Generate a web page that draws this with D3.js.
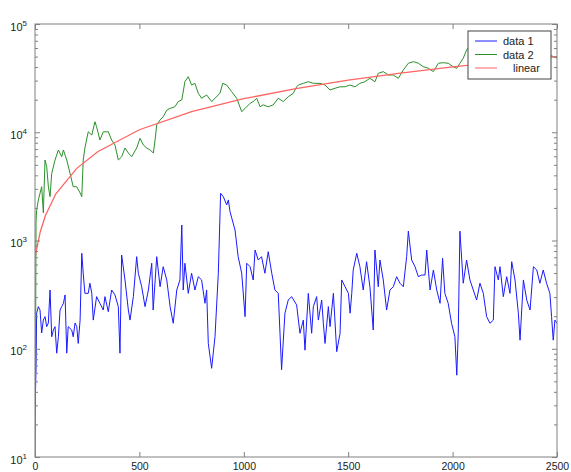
<!doctype html>
<html>
<head>
<meta charset="utf-8">
<script src="https://d3js.org/d3.v7.min.js"></script>
<style>
  body { margin: 0; background: #fff; }
  svg { display: block; font-family: "Liberation Sans", Arial, sans-serif; }
  .tick text { font-size: 10.5px; fill: #222; }
</style>
</head>
<body>
<svg id="chart" width="571" height="472"></svg>
<script>
// data 1 (blue)
var data1X = [1,5,8,16,24,32,40,48,56,64,72,80,88,96,104,112,120,128,136,144,152,159,176,183,192,200,207,216,224,231,239,255,263,272,279,295,311,327,335,351,367,383,399,407,415,431,447,455,471,487,495,511,527,543,559,566,583,599,614,631,647,662,679,694,703,710,718,734,750,766,782,798,814,822,830,846,862,878,889,902,918,926,934,958,973,990,1006,1014,1030,1045,1054,1069,1085,1101,1117,1134,1149,1165,1181,1197,1213,1229,1253,1269,1285,1293,1309,1325,1333,1349,1357,1373,1381,1389,1405,1413,1429,1445,1461,1469,1485,1501,1509,1517,1524,1541,1556,1572,1588,1604,1620,1628,1644,1652,1668,1684,1700,1716,1732,1748,1764,1780,1788,1804,1820,1836,1852,1868,1876,1892,1908,1924,1940,1952,1963,1979,1995,2011,2020,2027,2035,2051,2067,2083,2099,2115,2131,2147,2163,2179,2195,2203,2219,2227,2243,2259,2275,2283,2299,2315,2323,2339,2355,2371,2387,2403,2418,2434,2450,2466,2474,2482,2490,2500];
var data1Y = [30,68,214,245,228,140,184,198,160,173,349,129,149,160,91,129,228,245,263,314,91,160,149,129,173,160,112,184,762,498,325,325,403,325,184,303,263,228,303,220,349,314,245,91,734,432,228,184,303,709,498,374,245,349,616,228,709,374,573,432,245,172,349,432,1390,349,616,325,498,349,463,432,263,349,112,66,129,498,2730,2540,2130,2370,1850,1250,709,498,198,616,573,432,817,660,709,498,788,498,349,325,64,213,282,303,254,139,184,97,325,139,245,303,184,282,172,112,245,160,325,94,139,432,374,325,213,325,534,762,573,349,637,374,149,817,374,660,432,228,349,374,463,403,374,709,1220,660,573,463,480,480,817,349,534,349,263,685,325,263,172,129,57,139,1220,403,660,432,349,282,403,325,198,172,184,573,432,573,303,463,325,637,432,213,120,432,282,228,573,534,403,534,403,325,198,120,184,172];

// data 2 (green)
var data2X = [1,5,8,16,32,40,48,56,64,72,80,96,112,128,136,152,168,183,200,216,224,231,239,255,272,287,295,311,327,351,367,383,399,415,431,447,463,487,503,519,535,551,567,575,583,599,614,631,647,670,686,703,718,734,750,766,782,798,822,846,862,886,899,918,942,966,990,1006,1030,1045,1062,1078,1093,1117,1141,1165,1189,1213,1237,1253,1261,1285,1309,1333,1365,1389,1413,1437,1461,1485,1509,1533,1556,1580,1604,1628,1644,1668,1692,1716,1740,1764,1788,1812,1836,1860,1884,1908,1932,1955,1979,2003,2020,2035,2051,2067,2083,2131,2203,2275,2371,2442,2476,2500];
var data2Y = [10,1500,1900,2370,3140,1800,5540,4810,3140,2540,4160,5540,6860,5940,6860,5540,4160,3140,3140,2750,2540,5540,7160,10100,9430,12500,11250,8480,10100,10100,8480,7620,5540,5940,7160,6430,5940,7160,8800,7620,7160,6860,6430,8480,11700,13000,13900,16000,16600,17200,19200,19900,29300,32600,27300,28300,22900,20600,22100,19200,20600,22900,28300,27300,23700,20600,15500,16600,18500,19200,20600,17200,17900,17200,17900,20600,19200,21300,22900,26300,27300,28300,29300,28300,28300,27300,24600,25500,26300,26300,27300,26300,28300,29300,31500,29300,35000,36300,33800,33800,31500,37600,43400,44900,43400,40300,39000,36300,43400,43900,43400,40300,39000,43400,48200,57500,62600,57500,52800,55100,51700,52800,50600,48500];

// linear fit (red)
var linearX = [0,25,50,100,200,300,500,750,1000,1250,1500,1750,2000,2250,2500];
var linearY = [700,1200,1700,2700,4640,6600,10550,15500,20400,25300,30300,35200,40100,45000,50000];

var xTicks = [0, 500, 1000, 1500, 2000, 2500];
var yDecades = [10, 100, 1000, 10000, 100000];
var legendLabels = ["data 1", "data 2", "linear"];
var colors = ["#1a1aff", "#2a902a", "#ff6464"];

var svg = d3.select("#chart");
var pLeft = 35, pRight = 557, pTop = 24, pBottom = 457;
var x = d3.scaleLinear().domain([0, 2500]).range([pLeft, pRight]);
var y = d3.scaleLog().domain([10, 100000]).range([pBottom, pTop]);

var minorTicks = y.ticks().filter(function(d) { return yDecades.indexOf(d) < 0; });

// clip for data
svg.append("clipPath").attr("id", "clip").append("rect")
  .attr("x", pLeft).attr("y", pTop).attr("width", pRight - pLeft).attr("height", pBottom - pTop);

function drawSeries(xs, ys, color, w) {
  var pts = xs.map(function(d, i) { return [d, ys[i]]; });
  svg.append("path").datum(pts)
    .attr("clip-path", "url(#clip)")
    .attr("fill", "none").attr("stroke", color).attr("stroke-width", w)
    .attr("d", d3.line().x(function(d) { return x(d[0]); }).y(function(d) { return y(d[1]); }));
}
drawSeries(data1X, data1Y, colors[0], 1);
drawSeries(data2X, data2Y, colors[1], 1);
drawSeries(linearX, linearY, colors[2], 1.3);

// axes, ticks pointing inward
var axisColor = "#808080";
function styleAxis(g) {
  g.select(".domain").remove();
  g.selectAll(".tick line").attr("stroke", axisColor);
}
svg.append("g").attr("transform", "translate(0," + pBottom + ")")
  .call(d3.axisBottom(x).tickValues(xTicks).tickSize(-5).tickPadding(5.5).tickFormat(d3.format("d")))
  .call(styleAxis)
  .selectAll("text").attr("fill", "#222");
svg.append("g").attr("transform", "translate(0," + pTop + ")")
  .call(d3.axisTop(x).tickValues(xTicks).tickSize(-5).tickFormat(""))
  .call(styleAxis);

svg.append("g").attr("transform", "translate(" + pLeft + ",0)")
  .call(d3.axisLeft(y).tickValues(minorTicks).tickSize(-3).tickFormat(""))
  .call(styleAxis);
svg.append("g").attr("transform", "translate(" + pRight + ",0)")
  .call(d3.axisRight(y).tickValues(minorTicks).tickSize(-3).tickFormat(""))
  .call(styleAxis);
svg.append("g").attr("transform", "translate(" + pRight + ",0)")
  .call(d3.axisRight(y).tickValues(yDecades).tickSize(-5).tickFormat(""))
  .call(styleAxis);

var yAxis = svg.append("g").attr("transform", "translate(" + pLeft + ",0)")
  .call(d3.axisLeft(y).tickValues(yDecades).tickSize(-5).tickFormat(""))
  .call(styleAxis);
yAxis.selectAll(".tick").append("text")
  .attr("x", -8).attr("y", 6).attr("text-anchor", "end").attr("fill", "#222")
  .style("font-size", "11px")
  .each(function(d) {
    var t = d3.select(this);
    t.append("tspan").text("10");
    t.append("tspan").attr("dy", -5).style("font-size", "8px").text(Math.round(Math.log10(d)));
  });

svg.append("rect").attr("x", pLeft).attr("y", pTop).attr("width", pRight - pLeft).attr("height", pBottom - pTop)
  .attr("fill", "none").attr("stroke", axisColor).attr("stroke-width", 1);

// legend
var lg = svg.append("g").attr("transform", "translate(468,31)");
lg.append("rect").attr("width", 83).attr("height", 48).attr("fill", "#fff").attr("stroke", "#444");
legendLabels.forEach(function(lab, i) {
  var yy = 10 + i * 13.5;
  lg.append("line").attr("x1", 7).attr("x2", 29).attr("y1", yy).attr("y2", yy)
    .attr("stroke", colors[i]).attr("stroke-width", 1);
  lg.append("text").attr("x", i == 2 ? 45 : 35).attr("y", yy + 4).attr("fill", "#222")
    .style("font-size", "11px").text(lab);
});
</script>
</body>
</html>
